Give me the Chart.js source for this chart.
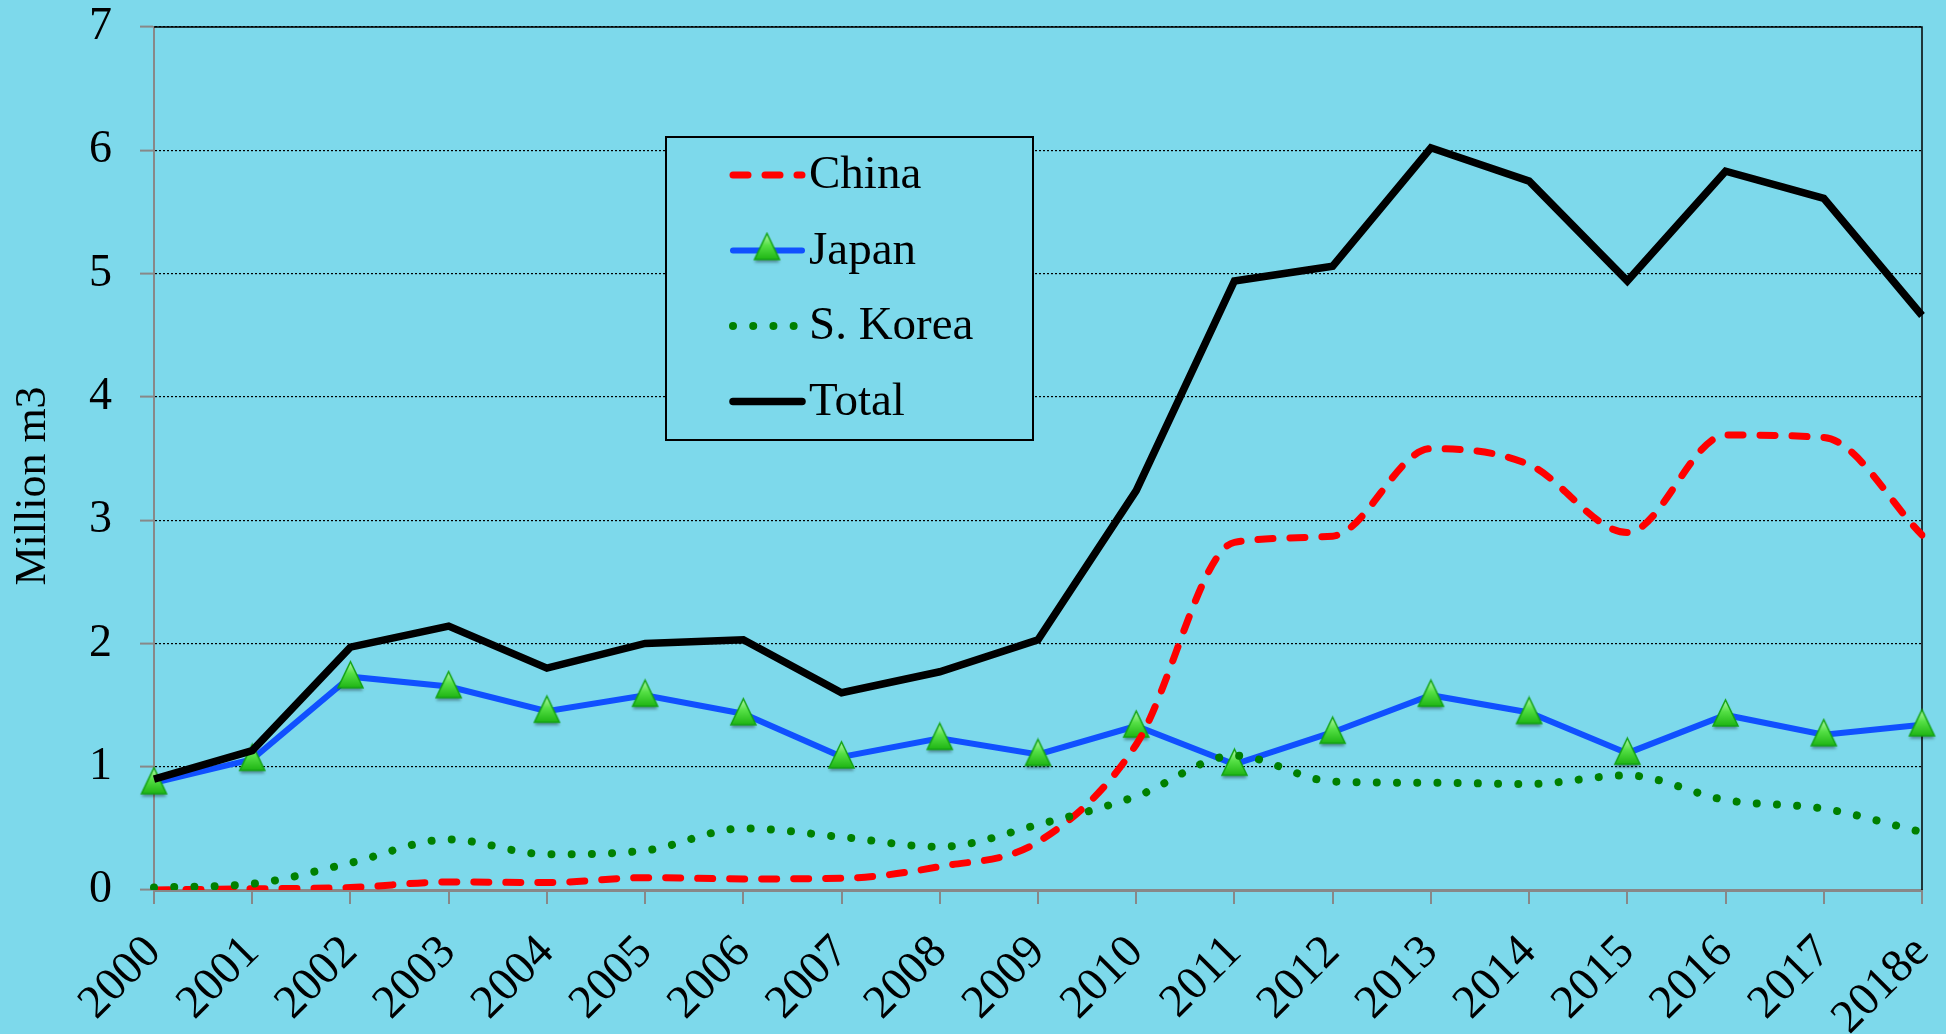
<!DOCTYPE html>
<html><head><meta charset="utf-8">
<script src="https://cdn.jsdelivr.net/npm/chart.js@4/dist/chart.umd.min.js"></script>
<style>html,body{margin:0;padding:0;background:#7DD9EB;overflow:hidden;}</style>
</head><body>
<canvas id="c" width="1946" height="1034"></canvas>
<script>
const categories = ['2000','2001','2002','2003','2004','2005','2006','2007','2008','2009','2010','2011','2012','2013','2014','2015','2016','2017','2018e'];
const china = [0.00,0.01,0.02,0.065,0.06,0.10,0.09,0.095,0.19,0.39,1.18,2.82,2.87,3.58,3.45,2.90,3.69,3.67,2.88];
const japan = [0.87,1.06,1.73,1.65,1.45,1.58,1.43,1.08,1.23,1.10,1.33,1.02,1.28,1.58,1.44,1.11,1.42,1.26,1.34];
const korea = [0.02,0.05,0.22,0.41,0.29,0.32,0.50,0.43,0.35,0.53,0.76,1.09,0.88,0.87,0.86,0.93,0.73,0.66,0.47];
const total = [0.90,1.13,1.97,2.14,1.80,2.00,2.03,1.60,1.77,2.03,3.24,4.94,5.06,6.02,5.75,4.94,5.83,5.61,4.66];
const yTickValues = [0,1,2,3,4,5,6,7];
const seriesNames = ['China','Japan','S. Korea','Total'];
const yTitle = 'Million m3';

const BG = '#7DD9EB';
const FONT = 'Liberation Serif';

function makeTri(w,h){
  const c=document.createElement('canvas'); c.width=w+6; c.height=h+8;
  const g=c.getContext('2d');
  g.shadowColor='rgba(0,0,0,0.35)'; g.shadowOffsetY=3; g.shadowBlur=3;
  const grad=g.createLinearGradient(0,2,0,h+2);
  grad.addColorStop(0,'#b9f7b0'); grad.addColorStop(0.45,'#55e045'); grad.addColorStop(1,'#1fb514');
  g.beginPath(); g.moveTo(w/2+3,2); g.lineTo(w+2,h+2); g.lineTo(4,h+2); g.closePath();
  g.fillStyle=grad; g.fill();
  g.shadowColor='transparent';
  g.strokeStyle='#13a313'; g.lineWidth=1.5; g.stroke();
  return c;
}
const tri = makeTri(27,26);

const styles = [
  {color:'#ff0000', width:7, dash:[15,17], cap:'round', mode:'monotone'},
  {color:'#1050ff', width:6, dash:[], cap:'butt', mode:'default'},
  {color:'#008000', width:8, dash:[0.01,20.2], cap:'round', mode:'monotone'},
  {color:'#000000', width:7.5, dash:[], cap:'butt', mode:'default'}
];
const values = [china, japan, korea, total];
const orders = [3,4,2,1];

const datasets = seriesNames.map((n,i)=>({
  label:n, data:values[i],
  borderColor:styles[i].color, backgroundColor:styles[i].color,
  borderWidth:styles[i].width, borderDash:styles[i].dash, borderCapStyle:styles[i].cap,
  borderJoinStyle:'miter',
  cubicInterpolationMode: styles[i].mode, tension: styles[i].mode==='monotone' ? 0.4 : 0,
  pointRadius: i===1 ? 13 : 0, pointStyle: i===1 ? tri : 'circle',
  pointHoverRadius: i===1 ? 13 : 0,
  order: orders[i], fill:false
}));

const frame = {
  id:'frame',
  beforeDatasetsDraw(chart){
    const {ctx, chartArea:a} = chart;
    ctx.save();
    ctx.strokeStyle='#000'; ctx.lineWidth=1.5;
    ctx.beginPath(); ctx.moveTo(a.left,a.top); ctx.lineTo(a.right,a.top); ctx.lineTo(a.right,a.bottom); ctx.stroke();
    ctx.restore();
  },
  afterDraw(chart){
    const ctx = chart.ctx;
    ctx.save();
    ctx.translate(33, 486); ctx.rotate(-Math.PI/2);
    ctx.fillStyle='#000'; ctx.font='44px "'+FONT+'"'; ctx.textAlign='center'; ctx.textBaseline='middle';
    ctx.fillText(yTitle, 0, 0);
    ctx.restore();
  },
  afterDatasetsDraw(chart){
    const ctx = chart.ctx;
    ctx.save();
    const L=666,T=137,R=1033,B=440;
    ctx.fillStyle=BG; ctx.fillRect(L,T,R-L,B-T);
    ctx.strokeStyle='#000'; ctx.lineWidth=2; ctx.strokeRect(L,T,R-L,B-T);
    chart.data.datasets.forEach((ds,i)=>{
      const y = 175 + i*75.5;
      ctx.save();
      ctx.strokeStyle=ds.borderColor; ctx.lineWidth=ds.borderWidth;
      ctx.setLineDash(ds.borderDash); ctx.lineCap='round';
      ctx.beginPath();
      if(i===2){ ctx.moveTo(733,y); ctx.lineTo(796,y);} else {ctx.moveTo(733,y); ctx.lineTo(802,y);}
      ctx.stroke();
      ctx.restore();
      if(i===1){ ctx.drawImage(tri, 767-tri.width/2, y-tri.height/2-2); }
      ctx.fillStyle='#000'; ctx.font='47px "'+FONT+'"'; ctx.textBaseline='middle'; ctx.textAlign='left';
      ctx.fillText(ds.label, 809, y+1);
    });
    ctx.restore();
  }
};

new Chart(document.getElementById('c'), {
  type:'line',
  data:{labels:categories, datasets},
  plugins:[frame],
  options:{
    responsive:false, animation:false,
    layout:{padding:{top:27, right:24, left:0, bottom:0}},
    plugins:{legend:{display:false}, tooltip:{enabled:false}},
    scales:{
      x:{
        offset:false,
        grid:{drawOnChartArea:false, color:'#888', tickLength:14, lineWidth:2},
        border:{color:'#888', width:3},
        ticks:{font:{family:FONT, size:47}, color:'#000', maxRotation:45, minRotation:45, autoSkip:false, padding:21},
        afterFit(s){ s.height = 144; s.paddingLeft = 0; s.paddingRight = 0; }
      },
      y:{
        min:0, max:7,
        afterBuildTicks(s){ s.ticks = yTickValues.map(v=>({value:v})); },
        ticks:{font:{family:FONT, size:46}, color:'#000', padding:28},
        grid:{color:(c)=> c.tick && c.tick.value===0 ? 'rgba(0,0,0,0)' : '#000', lineWidth:1.2, tickColor:'#888', tickWidth:2, tickLength:14, tickBorderDash:[]},
        border:{color:'#888', width:2, dash:[2,2]},
        afterFit(s){ s.width = 154; s.paddingTop = 0; s.paddingBottom = 0; }
      }
    }
  }
});
</script>
</body></html>
